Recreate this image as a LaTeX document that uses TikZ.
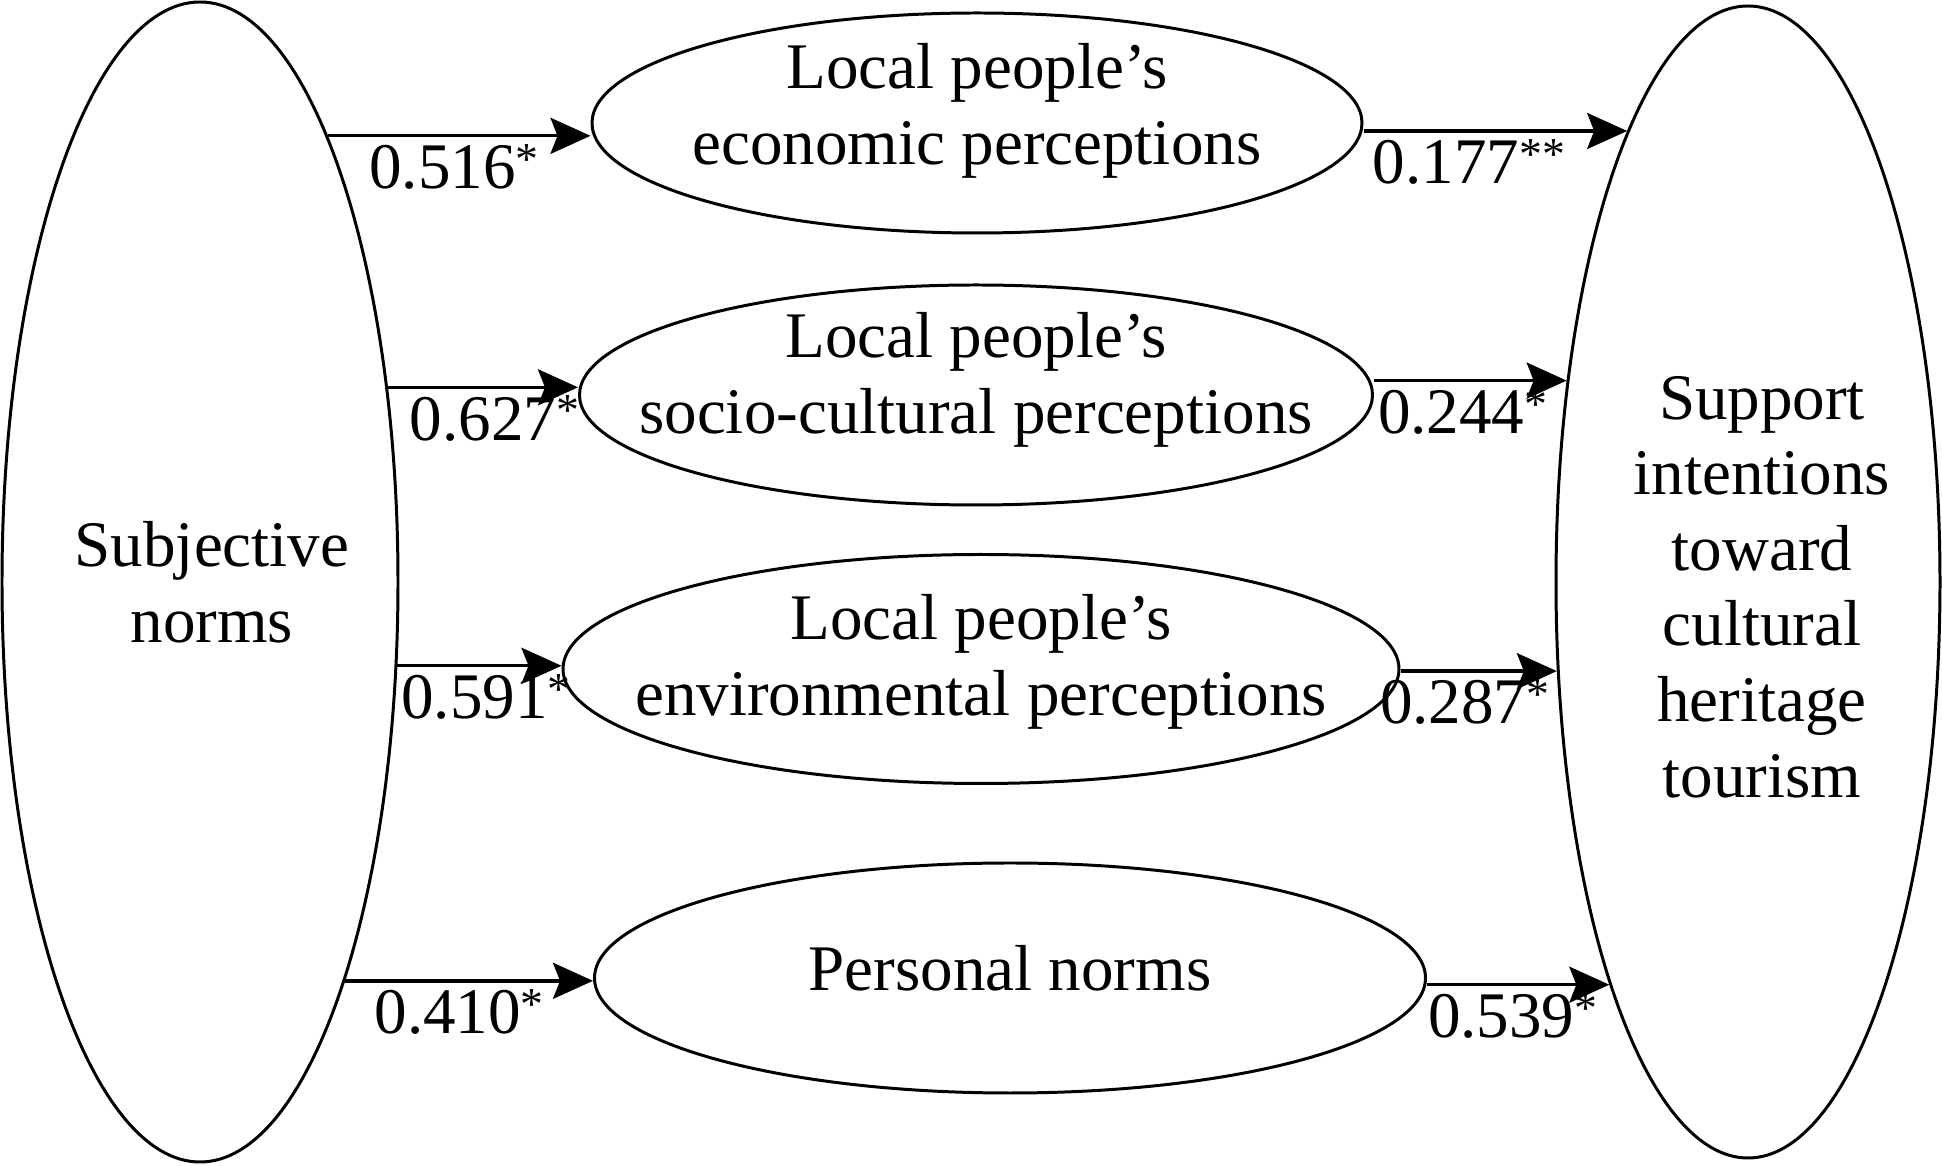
\documentclass[tikz,border=0pt]{standalone}
\usepackage{fontspec}
\setmainfont{Liberation Serif}
\usetikzlibrary{shapes.geometric, arrows.meta}

\tikzset{
  latent/.style={draw, ellipse, line width=0.85pt, inner sep=0pt},
  effect/.style={-{Stealth[length=4mm, width=3.6mm, inset=0.7mm]}, line width=0.95pt},
  coef/.style={below=1pt, inner sep=1pt},
}
\newcommand{\sigmark}[1]{\raisebox{4pt}{\fontsize{13}{13}\selectfont #1}}

\begin{document}
\begin{tikzpicture}[font=\fontsize{18.5}{21.5}\selectfont]
  \useasboundingbox (0,0) rectangle (19.42,11.66);

  % outer constructs
  \node[latent, minimum width=3.96cm, minimum height=11.60cm,
        label={[align=center, xshift=1.2mm]center:Subjective\\norms}] (sn) at (2.00,5.84) {};
  \node[latent, minimum width=3.84cm, minimum height=11.52cm,
        label={[align=center, xshift=1.4mm, yshift=-0.5mm]center:Support\\intentions\\toward\\cultural\\heritage\\tourism}] (si) at (17.48,5.84) {};

  % mediators
  \node[latent, minimum width=7.70cm, minimum height=2.20cm,
        label={[align=center, yshift=1.2mm]center:Local people’s\\economic perceptions}] (econ) at (9.77,10.43) {};
  \node[latent, minimum width=7.93cm, minimum height=2.20cm,
        label={[align=center, yshift=1.5mm]center:Local people’s\\socio-cultural perceptions}] (socio) at (9.76,7.71) {};
  \node[latent, minimum width=8.36cm, minimum height=2.29cm,
        label={[align=center, yshift=0.7mm]center:Local people’s\\environmental perceptions}] (envir) at (9.81,4.97) {};
  \node[latent, minimum width=8.31cm, minimum height=2.30cm,
        label={[yshift=1mm]center:Personal norms}] (pn) at (10.10,1.88) {};

  % paths from subjective norms
  \draw[effect] (sn.74.8) -- (sn.74.8 -| econ.west) node[coef, pos=0.48] {0.516\sigmark{*}};
  \draw[effect] (sn.46.6) -- (sn.46.6 -| socio.west) node[coef, pos=0.56] {0.627\sigmark{*}};
  \draw[effect] (sn.-23.6) -- (sn.-23.6 -| envir.west) node[coef, pos=0.54] {0.591\sigmark{*}};
  \draw[effect] (sn.-70.4) -- (sn.-70.4 -| pn.west) node[coef, pos=0.46] {0.410\sigmark{*}};

  % paths to support intentions
  \draw[effect] (si.105.15 -| econ.east) -- (si.105.15) node[coef, pos=0.40] {0.177\sigmark{**}};
  \draw[effect] (si.132.3 -| socio.east) -- (si.132.3) node[coef, pos=0.46] {0.244\sigmark{*}};
  \draw[effect] (si.205.1 -| envir.east) -- (si.205.1) node[coef, pos=0.41] {0.287\sigmark{*}};
  \draw[effect] (si.251.15 -| pn.east) -- (si.251.15) node[coef, pos=0.47] {0.539\sigmark{*}};
\end{tikzpicture}
\end{document}
